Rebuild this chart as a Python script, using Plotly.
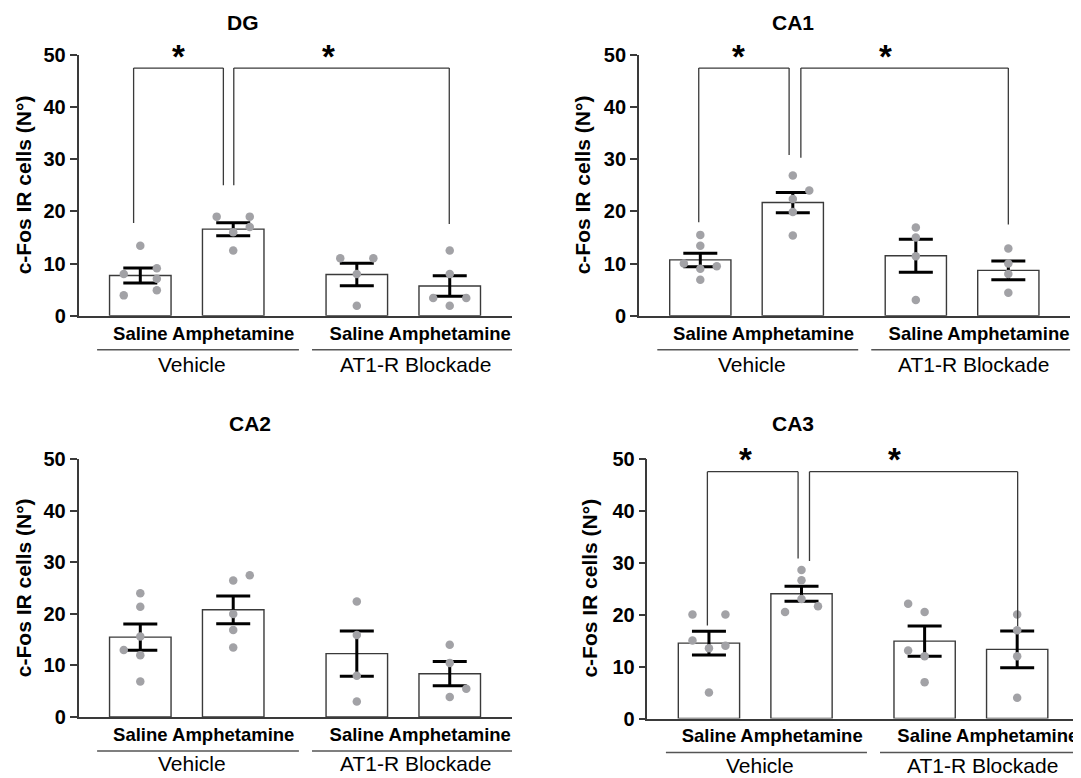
import plotly.graph_objects as go

# ---------------- data ----------------
categories = ["Saline", "Amphetamine", "Saline", "Amphetamine"]
groups = ["Vehicle", "AT1-R Blockade"]
x_pos = [0, 1, 2.33, 3.33]
regions = ["DG", "CA1", "CA2", "CA3"]
y_label = "c-Fos IR cells (N°)"
y_ticks = [0, 10, 20, 30, 40, 50]

dg_mean = [7.7, 16.6, 7.9, 5.7]
dg_sem = [1.45, 1.25, 2.15, 1.95]
dg_pts = [[13.4, 8.0, 9.1, 7.1, 4.9, 3.9],
          [19.0, 19.0, 17.0, 16.0, 12.5],
          [11.0, 11.0, 8.0, 1.9],
          [12.5, 8.0, 3.4, 3.4, 1.9]]
dg_jit = [[0, -1, 1, 1, 1, -1],
          [-1, 1, 1, 0, 0],
          [-1, 1, 0, 0],
          [0, 0, -1, 1, 0]]

ca1_mean = [10.7, 21.7, 11.5, 8.7]
ca1_sem = [1.3, 1.95, 3.15, 1.8]
ca1_pts = [[15.5, 13.4, 10.0, 9.5, 9.0, 6.9],
           [26.9, 24.0, 22.4, 19.9, 15.4],
           [16.9, 15.0, 11.4, 3.0],
           [12.9, 10.0, 8.0, 4.4]]
ca1_jit = [[0, 0, -1, 1, 0, 0],
           [0, 1, 0, 0, 0],
           [0, 0, 0, 0],
           [0, 0, 0, 0]]

ca2_mean = [15.5, 20.8, 12.3, 8.4]
ca2_sem = [2.55, 2.7, 4.4, 2.35]
ca2_pts = [[24.0, 21.4, 15.6, 13.0, 12.0, 6.9],
           [26.5, 27.5, 20.0, 16.9, 13.5],
           [22.4, 15.9, 8.0, 3.0],
           [14.0, 10.5, 5.5, 3.9]]
ca2_jit = [[0, 0, 0, -1, 0, 0],
           [0, 1, 0, 0, 0],
           [0, 0, 0, 0],
           [0, 0, 1, 0]]

ca3_mean = [14.5, 24.0, 14.9, 13.3]
ca3_sem = [2.3, 1.45, 2.9, 3.55]
ca3_pts = [[20.0, 20.0, 15.0, 14.0, 13.5, 5.0],
           [28.6, 26.6, 23.0, 20.5, 21.6],
           [22.1, 20.5, 13.1, 12.0, 7.0],
           [20.0, 17.0, 12.0, 4.0]]
ca3_jit = [[-1, 1, -1, 1, 0, 0],
           [0, 0, 0, -1, 1],
           [-1, 0, -1, 0, 0],
           [0, 0, 0, 0]]

means = [dg_mean, ca1_mean, ca2_mean, ca3_mean]
sems = [dg_sem, ca1_sem, ca2_sem, ca3_sem]
points = [dg_pts, ca1_pts, ca2_pts, ca3_pts]
jitters = [dg_jit, ca1_jit, ca2_jit, ca3_jit]
# significance brackets: (left leg x, right leg x, left bottom, right bottom)
brackets = [
    [(-0.072, 0.894, 17.8, 25.0), (1.006, 3.325, 25.0, 17.6)],
    [(-0.017, 0.96, 17.9, 30.8), (1.087, 3.33, 30.3, 17.5)],
    [],
    [(-0.017, 0.963, 17.9, 30.8), (1.086, 3.335, 30.3, 17.8)],
]
bracket_top = 47.5
star_x = [[0.416, 2.02], [0.41, 2.0], [], [0.40, 2.005]]

# ---------------- layout geometry (page pixels) ----------------
PAGE_W, PAGE_H = 1081, 778
OFF = 8  # default page body margin: the figure starts at (8, 8)
W, H = PAGE_W - OFF, PAGE_H - OFF
FONT = "Liberation Sans, Arial, sans-serif"
x_domains = [(78.5, 512), (638.8, 1070.3), (78.5, 512), (647.4, 1079.2)]
y_domains = [(55, 315.7), (55, 315.7), (459.3, 717), (458.7, 718.5)]
title_pos = [(243, 22), (793, 22), (250, 423), (793, 423)]
ytitle_x = [23, 582, 23, 590]
group_dy = [49, 49, 46.5, 46.5]
AX = "#3a3a3a"


def px(x):
    return (x - OFF) / W


def py(y):
    return 1 - (y - OFF) / H


fig = go.Figure()
layout = dict(width=W, height=H, margin=dict(l=0, r=0, t=0, b=0, pad=0, autoexpand=False),
              paper_bgcolor="white", plot_bgcolor="white", showlegend=False,
              font=dict(family=FONT, color="black"))
shapes = []
annotations = []

for i in range(4):
    xs = "" if i == 0 else str(i + 1)
    xa, ya = "x" + xs, "y" + xs
    x0, x1 = x_domains[i]
    yt, yb = y_domains[i]
    layout["xaxis" + xs] = dict(
        domain=[px(x0), px(x1)], range=[-0.665, 4.0], anchor=ya, automargin=False,
        showline=True, linecolor=AX, linewidth=1.5, showgrid=False, zeroline=False,
        tickvals=x_pos, ticktext=categories, ticks="",
        tickfont=dict(family=FONT, size=18.5, weight="bold", color="black"),
        ticklabelstandoff=0, fixedrange=True)
    layout["yaxis" + xs] = dict(
        domain=[py(yb), py(yt)], range=[0, 50], anchor=xa, automargin=False,
        showline=True, linecolor=AX, linewidth=1.5, showgrid=False, zeroline=False,
        tickvals=y_ticks, ticks="outside", ticklen=7, tickwidth=1.5, tickcolor=AX,
        tickfont=dict(family=FONT, size=20, weight="bold", color="black"),
        fixedrange=True)

    fig.add_trace(go.Bar(
        x=x_pos, y=means[i], width=0.662, xaxis=xa, yaxis=ya,
        marker=dict(color="white", line=dict(color=AX, width=1.4)),
        error_y=dict(type="data", array=sems[i], color="black", thickness=3, width=17)))

    for k in range(4):
        fig.add_trace(go.Scatter(
            x=[x_pos[k] + 0.178 * j for j in jitters[i][k]], y=points[i][k],
            mode="markers", xaxis=xa, yaxis=ya, cliponaxis=False,
            marker=dict(color="#a2a2a6", size=8.5)))

    # brackets
    for (lx, rx, lb, rb) in brackets[i]:
        for sx0, sy0, sx1, sy1 in [(lx, lb, lx, bracket_top), (lx, bracket_top, rx, bracket_top),
                                   (rx, bracket_top, rx, rb)]:
            shapes.append(dict(type="line", xref=xa, yref=ya, x0=sx0, y0=sy0, x1=sx1, y1=sy1,
                               line=dict(color=AX, width=1.3)))
    for sx in star_x[i]:
        annotations.append(dict(text="<b>*</b>", x=sx, xref=xa, y=py(yt + 1), yref="paper",
                                showarrow=False, xanchor="center", yanchor="middle",
                                font=dict(family=FONT, size=33, color="black")))

    # group underlines and labels
    for (gx0, gx1, gtxt, gtx) in [(-0.465, 1.707, groups[0], 0.556), (1.848, 4.0, groups[1], 2.957)]:
        shapes.append(dict(type="line", xref=xa, yref="paper", x0=gx0, x1=gx1,
                           y0=py(yb + 34), y1=py(yb + 34),
                           line=dict(color="#555555", width=1.5)))
        annotations.append(dict(text=gtxt, x=gtx, xref=xa, y=py(yb + group_dy[i]), yref="paper",
                                showarrow=False, xanchor="center", yanchor="middle", borderpad=0,
                                font=dict(family=FONT, size=21, color="black")))

    # titles
    tx, ty = title_pos[i]
    annotations.append(dict(text="<b>" + regions[i] + "</b>", x=px(tx), y=py(ty),
                            xref="paper", yref="paper", showarrow=False,
                            xanchor="center", yanchor="middle",
                            font=dict(family=FONT, size=21, color="black")))
    annotations.append(dict(text="<b>" + y_label + "</b>", x=px(ytitle_x[i]),
                            y=py((yt + yb) / 2), xref="paper", yref="paper",
                            showarrow=False, textangle=-90, xanchor="center", yanchor="middle",
                            font=dict(family=FONT, size=21, color="black")))

layout["shapes"] = shapes
layout["annotations"] = annotations
fig.update_layout(**layout)
fig.write_html("out.html")
